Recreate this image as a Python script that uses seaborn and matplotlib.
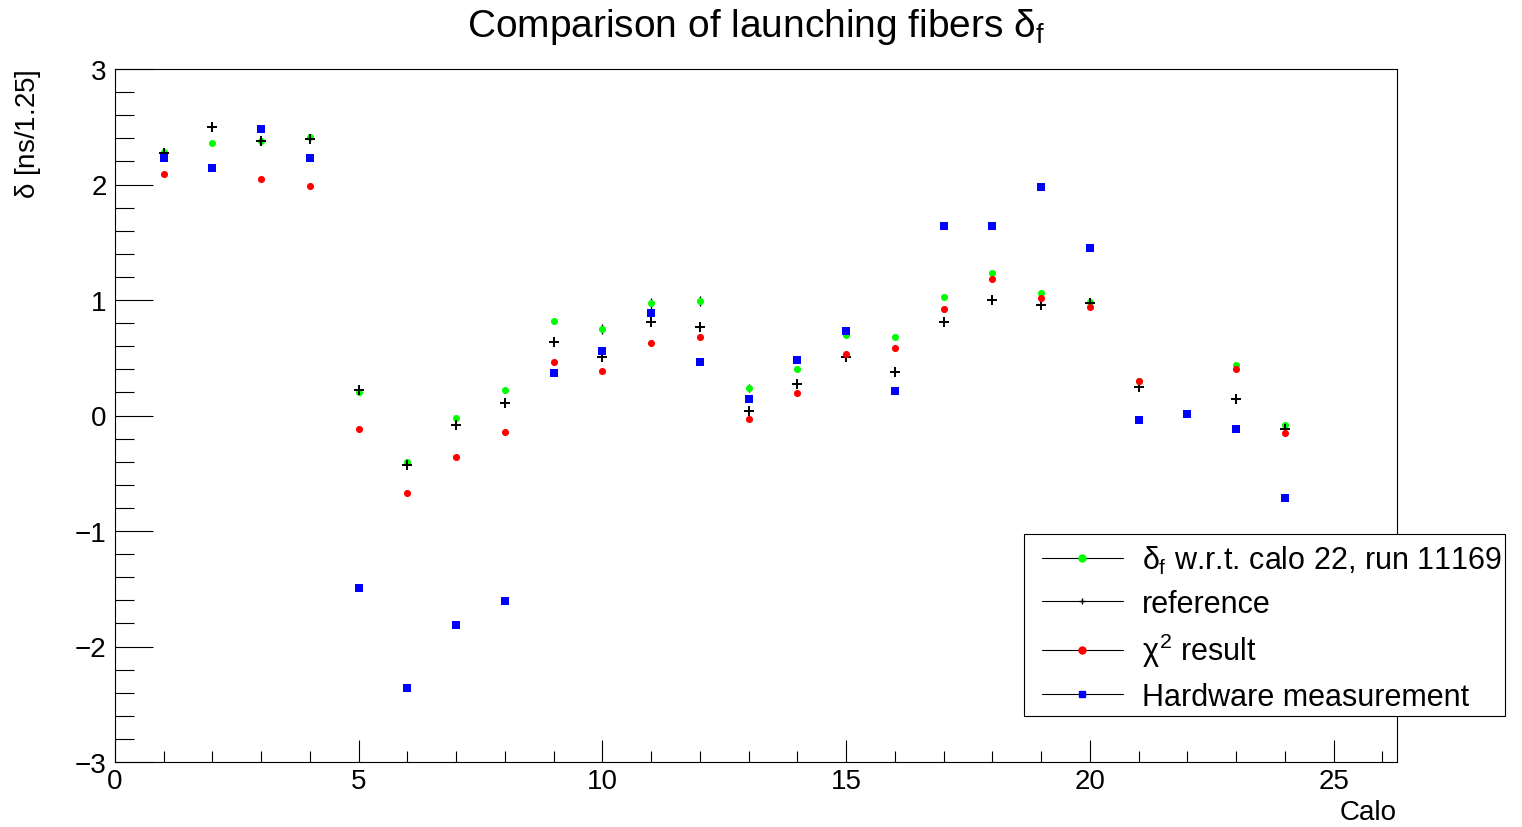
import numpy as np
import matplotlib
matplotlib.use("Agg")
import matplotlib.pyplot as plt
from matplotlib.lines import Line2D
from matplotlib.patches import Rectangle
from matplotlib.ticker import MultipleLocator
import seaborn as sns

# ---------------- data ----------------
calo = list(range(1, 25))
# calo 22 is the reference calo: only the hardware value is shown there
delta_f = [2.28, 2.36, 2.38, 2.41, 0.20, -0.40, -0.02, 0.22, 0.82, 0.75, 0.97, 0.99,
           0.24, 0.40, 0.70, 0.68, 1.03, 1.23, 1.06, 0.98, 0.30, np.nan, 0.44, -0.08]
delta_f_err = [0.02, 0.02, 0.02, 0.02, 0.02, 0.02, 0.02, 0.02, 0.02, 0.045, 0.045, 0.045,
               0.035, 0.02, 0.02, 0.02, 0.02, 0.02, 0.02, 0.02, 0.02, 0.0, 0.02, 0.02]
reference = [2.27, 2.50, 2.38, 2.39, 0.22, -0.43, -0.08, 0.11, 0.64, 0.51, 0.81, 0.77,
             0.04, 0.27, 0.51, 0.38, 0.81, 1.00, 0.96, 0.97, 0.25, np.nan, 0.14, -0.12]
chi2_result = [2.09, np.nan, 2.045, 1.99, -0.12, -0.67, -0.36, -0.14, 0.46, 0.385, 0.63, 0.68,
               -0.03, 0.195, 0.535, 0.585, 0.92, 1.18, 1.02, 0.94, 0.295, np.nan, 0.405, -0.155]
hardware = [2.23, 2.14, 2.48, 2.23, -1.49, -2.36, -1.81, -1.61, 0.37, 0.56, 0.89, 0.46,
            0.14, 0.48, 0.73, 0.215, 1.64, 1.64, 1.98, 1.45, -0.035, 0.01, -0.12, -0.71]

labels = [r"$\delta_{\rm f}$ w.r.t. calo 22, run 11169", "reference",
          r"$\chi^{2}$ result", "Hardware measurement"]
title = r"Comparison of launching fibers $\delta_{\rm f}$"
xlabel = "Calo"
ylabel = r"$\delta$ [ns/1.25]"

# ---------------- style ----------------
sns.set_style("white")
plt.rcParams["font.family"] = ["Liberation Sans", "DejaVu Sans"]
plt.rcParams["mathtext.fontset"] = "custom"
plt.rcParams["mathtext.rm"] = "Liberation Sans"
plt.rcParams["mathtext.it"] = "Liberation Sans"
plt.rcParams["mathtext.bf"] = "Liberation Sans:bold"
plt.rcParams["mathtext.sf"] = "Liberation Sans"
plt.rcParams["axes.unicode_minus"] = True
plt.rcParams["text.color"] = "black"
plt.rcParams["xtick.color"] = "black"
plt.rcParams["ytick.color"] = "black"
plt.rcParams["xtick.labelcolor"] = "black"
plt.rcParams["ytick.labelcolor"] = "black"

W, H = 1522, 828
fig = plt.figure(figsize=(W / 100, H / 100), dpi=100)
fig.patch.set_facecolor("white")
ax = fig.add_axes([115 / W, 65 / H, 1282 / W, 693 / H])

GREEN, RED, BLUE = "#00ff00", "#ff0000", "#0000ff"

ax.errorbar(calo, delta_f, yerr=delta_f_err, fmt="none", ecolor="black",
            elinewidth=1.0, capsize=0, zorder=2)
sns.scatterplot(x=calo, y=delta_f, color=GREEN, marker="o", s=26, linewidth=0,
                ax=ax, zorder=3)
sns.scatterplot(x=calo, y=reference, color="black", marker="+", s=50, linewidth=1.4,
                ax=ax, zorder=4)
sns.scatterplot(x=calo, y=chi2_result, color=RED, marker="o", s=26, linewidth=0,
                ax=ax, zorder=5)
sns.scatterplot(x=calo, y=hardware, color=BLUE, marker="s", s=30, linewidth=0,
                ax=ax, zorder=6)

ax.set_xlim(0, 26.3)
ax.set_ylim(-3, 3)
ax.xaxis.set_major_locator(MultipleLocator(5))
ax.xaxis.set_minor_locator(MultipleLocator(1))
ax.yaxis.set_major_locator(MultipleLocator(1))
ax.yaxis.set_minor_locator(MultipleLocator(0.2))
ax.set_xlabel("")
ax.set_ylabel("")

ax.tick_params(axis="both", which="both", direction="in", top=False, right=False,
               bottom=True, left=True, width=0.8, color="black", labelsize=20,
               labelcolor="black")
ax.tick_params(axis="x", which="major", length=15.5, pad=4)
ax.tick_params(axis="x", which="minor", length=7.8)
ax.tick_params(axis="y", which="major", length=27.5, pad=6)
ax.tick_params(axis="y", which="minor", length=13.8)
for sp in ax.spines.values():
    sp.set_visible(True)
    sp.set_color("black")
    sp.set_linewidth(0.8)

fig.text(756 / W, 1 - 37 / H, title, ha="center", va="baseline", fontsize=28)
fig.text(28.5 / W, 1 - 69 / H, ylabel, ha="center", va="top", rotation=90, fontsize=20)
fig.text(1397 / W, 1 - 813 / H, xlabel, ha="right", va="center", fontsize=20)

# legend box
rect = Rectangle((1024 / W, 1 - 717 / H), 481 / W, 182 / H, transform=fig.transFigure,
                 facecolor="white", edgecolor="black", linewidth=0.8, zorder=10)
fig.add_artist(rect)
handles = [
    Line2D([0], [0], color="black", lw=0.8, marker="o", markersize=5,
           markerfacecolor=GREEN, markeredgecolor=GREEN),
    Line2D([0], [0], color="black", lw=0.8, marker="+", markersize=5,
           markeredgewidth=1.0, markeredgecolor="black"),
    Line2D([0], [0], color="black", lw=0.8, marker="o", markersize=5,
           markerfacecolor=RED, markeredgecolor=RED),
    Line2D([0], [0], color="black", lw=0.8, marker="s", markersize=5,
           markerfacecolor=BLUE, markeredgecolor=BLUE),
]
leg = fig.legend(handles, labels, loc="upper left",
                 bbox_to_anchor=(1042 / W, 1 - 545 / H), frameon=False,
                 fontsize=22, borderpad=0, borderaxespad=0, handlelength=2.65,
                 handletextpad=0.62, labelspacing=0.41)
leg.set_zorder(11)
for t in leg.get_texts():
    t.set_color("black")

fig.savefig("out.png", dpi=100, facecolor="white")
